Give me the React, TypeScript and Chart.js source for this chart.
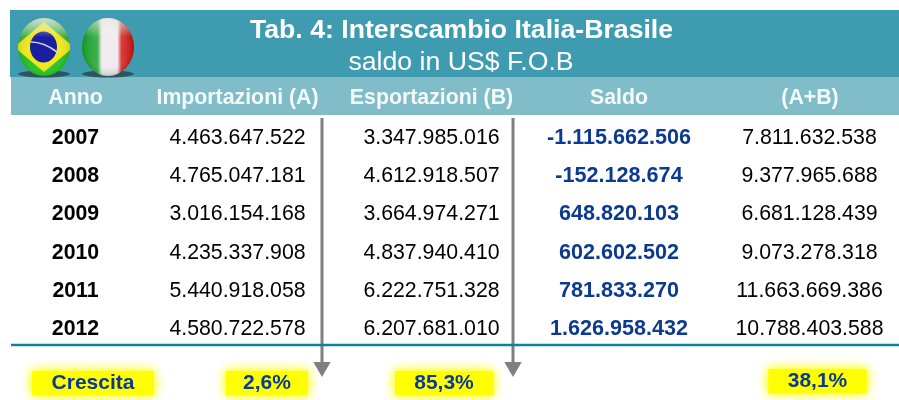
import React, { useEffect, useRef } from "react";
import { Chart, registerables } from "chart.js";

Chart.register(...registerables);

const title = "Tab. 4: Interscambio Italia-Brasile";
const subtitle = "saldo in US$ F.O.B";
const columns = ["Anno", "Importazioni (A)", "Esportazioni (B)", "Saldo", "(A+B)"];
const years = ["2007", "2008", "2009", "2010", "2011", "2012"];
const importazioni = [4463647522, 4765047181, 3016154168, 4235337908, 5440918058, 4580722578];
const esportazioni = [3347985016, 4612918507, 3664974271, 4837940410, 6222751328, 6207681010];
const saldo = [-1115662506, -152128674, 648820103, 602602502, 781833270, 1626958432];
const somma = [7811632538, 9377965688, 6681128439, 9073278318, 11663669386, 10788403588];
const crescitaLabel = "Crescita";
const crescita = ["2,6%", "85,3%", "38,1%"];

// layout (pixels on the x scale, row units on the y scale)
const colX = [75.5, 237.5, 431.5, 619, 809.5];
const headX = [75.5, 237.5, 431.5, 619, 810];
const arrowX = [322, 513];
const W = 899, H = 400;
const ROW = 38.2, TOP = 118;
const FONT = '"Liberation Sans", Arial, sans-serif';
const NAVY = "#0C3A90";

const fmt = (n: number) => (n < 0 ? "-" : "") + Math.abs(n).toString().replace(/\B(?=(\d{3})+(?!\d))/g, ".");

function text(ctx: CanvasRenderingContext2D, s: string, x: number, y: number, font: string, color: string) {
  ctx.font = font;
  ctx.fillStyle = color;
  ctx.textAlign = "center";
  ctx.textBaseline = "middle";
  ctx.fillText(s, x, y + 1);
}

function globe(ctx: CanvasRenderingContext2D, cx: number, cy: number, paint: () => void) {
  ctx.save();
  ctx.fillStyle = "#2C5560";
  ctx.beginPath();
  ctx.ellipse(cx, 74, 26, 3.5, 0, 0, Math.PI * 2);
  ctx.fill();
  ctx.beginPath();
  ctx.ellipse(cx, cy, 26, 29, 0, 0, Math.PI * 2);
  ctx.clip();
  paint();
  const g = ctx.createRadialGradient(cx, cy + 4, 14, cx, cy, 30);
  g.addColorStop(0, "rgba(255,255,255,0)");
  g.addColorStop(0.8, "rgba(0,60,0,0.15)");
  g.addColorStop(1, "rgba(0,40,0,0.35)");
  ctx.fillStyle = g;
  ctx.fillRect(cx - 30, cy - 30, 60, 60);
  const h = ctx.createLinearGradient(0, cy - 29, 0, cy - 10);
  h.addColorStop(0, "rgba(255,255,255,0.7)");
  h.addColorStop(1, "rgba(255,255,255,0)");
  ctx.fillStyle = h;
  ctx.fillRect(cx - 30, cy - 30, 60, 22);
  ctx.restore();
}

function brazil(ctx: CanvasRenderingContext2D) {
  const cx = 44, cy = 47;
  globe(ctx, cx, cy, () => {
    const g = ctx.createLinearGradient(0, 18, 0, 76);
    g.addColorStop(0, "#7FC08A");
    g.addColorStop(0.5, "#21B321");
    g.addColorStop(1, "#2FD02A");
    ctx.fillStyle = g;
    ctx.fillRect(cx - 28, 16, 56, 62);
    ctx.fillStyle = "#F2E81E";
    ctx.beginPath();
    ctx.moveTo(cx - 30, cy);
    ctx.lineTo(cx, cy - 25);
    ctx.lineTo(cx + 30, cy);
    ctx.lineTo(cx, cy + 25);
    ctx.closePath();
    ctx.fill();
    ctx.fillStyle = "#1A1FA0";
    ctx.beginPath();
    ctx.ellipse(cx - 0.5, cy, 13.5, 15.5, 0, 0, Math.PI * 2);
    ctx.fill();
    ctx.strokeStyle = "#C9D3EE";
    ctx.lineWidth = 1.6;
    ctx.beginPath();
    ctx.moveTo(cx - 13, cy - 5);
    ctx.quadraticCurveTo(cx, cy - 5, cx + 13, cy + 5);
    ctx.stroke();
  });
}

function italy(ctx: CanvasRenderingContext2D) {
  const cx = 108, cy = 47;
  globe(ctx, cx, cy, () => {
    const g = ctx.createLinearGradient(cx - 26, 0, cx + 26, 0);
    g.addColorStop(0, "#12A024");
    g.addColorStop(0.3, "#3FB04E");
    g.addColorStop(0.38, "#F2ECF0");
    g.addColorStop(0.68, "#F2ECF0");
    g.addColorStop(0.76, "#DC3A3A");
    g.addColorStop(1, "#CC0606");
    ctx.fillStyle = g;
    ctx.fillRect(cx - 28, 16, 56, 62);
  });
}

const tablePlugin = {
  id: "table",
  beforeDatasetsDraw(chart: any) {
    const ctx: CanvasRenderingContext2D = chart.ctx;
    const xs = chart.scales.x, ys = chart.scales.y;
    ctx.save();
    ctx.fillStyle = "#3F9CB0";
    ctx.fillRect(10, 10, W - 10, 67);
    ctx.fillStyle = "#80BDC9";
    ctx.fillRect(11, 77, W - 11, 38);
    brazil(ctx);
    italy(ctx);
    text(ctx, title, 461.5, 30, `bold 26.67px ${FONT}`, "#FFFFFF");
    text(ctx, subtitle, 461, 61.5, `26.67px ${FONT}`, "#FFFFFF");
    columns.forEach((c, i) => text(ctx, c, headX[i], 97.5, `bold 21.3px ${FONT}`, "#F4FAFB"));

    const yc = ys.getPixelForValue(6.91);
    const marks: [string, number, number, number][] = [
      [crescitaLabel, 93, 122, yc],
      [crescita[0], 267, 82, yc],
      [crescita[1], 444, 98, yc],
      [crescita[2], 817.5, 98, yc - 2],
    ];
    marks.forEach(([_, x, w, y]) => {
      ctx.save();
      ctx.shadowColor = "rgba(255,255,40,0.95)";
      ctx.shadowBlur = 11;
      ctx.fillStyle = "#FFFF00";
      ctx.fillRect(xs.getPixelForValue(x) - w / 2, y - 11, w, 24);
      ctx.fillRect(xs.getPixelForValue(x) - w / 2, y - 11, w, 24);
      ctx.restore();
    });
    marks.forEach(([s, x, _, y]) => text(ctx, s, xs.getPixelForValue(x), y, `bold 21px ${FONT}`, NAVY));

    years.forEach((yr, i) => {
      const y = ys.getPixelForValue(i + 0.5);
      const at = (k: number) => xs.getPixelForValue(colX[k]);
      text(ctx, yr, at(0), y, `bold 21.3px ${FONT}`, "#000000");
      text(ctx, fmt(importazioni[i]), at(1), y, `21.3px ${FONT}`, "#000000");
      text(ctx, fmt(esportazioni[i]), at(2), y, `21.3px ${FONT}`, "#000000");
      text(ctx, fmt(saldo[i]), at(3), y, `bold 21.6px ${FONT}`, NAVY);
      text(ctx, fmt(somma[i]), at(4), y, `21.3px ${FONT}`, "#000000");
    });
    ctx.restore();
  },
};

export default function App() {
  const ref = useRef<HTMLCanvasElement>(null);
  useEffect(() => {
    const arrow = (x: number) => ({
      data: [{ x, y: 0 }, { x, y: 6.52 }],
      borderColor: "#7F7F7F",
      backgroundColor: "#7F7F7F",
      borderWidth: 3,
      pointRadius: [0, 10],
      pointStyle: "triangle",
      pointRotation: 180,
      pointBorderWidth: 0,
      showLine: true,
      clip: false,
    });
    const chart = new Chart(ref.current!, {
      type: "scatter",
      data: {
        datasets: [
          {
            data: [{ x: 11, y: 5.94 }, { x: W, y: 5.94 }],
            borderColor: "#0E8299",
            borderWidth: 2.5,
            pointRadius: 0,
            showLine: true,
            clip: false,
          },
          ...arrowX.map(arrow),
        ] as any,
      },
      options: {
        animation: false,
        responsive: false,
        layout: { autoPadding: false, padding: { top: TOP, bottom: 0, left: 0, right: 0 } },
        plugins: { legend: { display: false }, tooltip: { enabled: false } },
        scales: {
          x: { type: "linear", min: 0, max: W, display: false },
          y: { type: "linear", min: 0, max: (H - TOP) / ROW, reverse: true, display: false },
        },
      },
      plugins: [tablePlugin],
    });
    return () => chart.destroy();
  }, []);
  return (
    <canvas
      ref={ref}
      width={W}
      height={H}
      style={{ position: "fixed", left: 0, top: 0, width: W, height: H, filter: "blur(0.35px)" }}
    />
  );
}
